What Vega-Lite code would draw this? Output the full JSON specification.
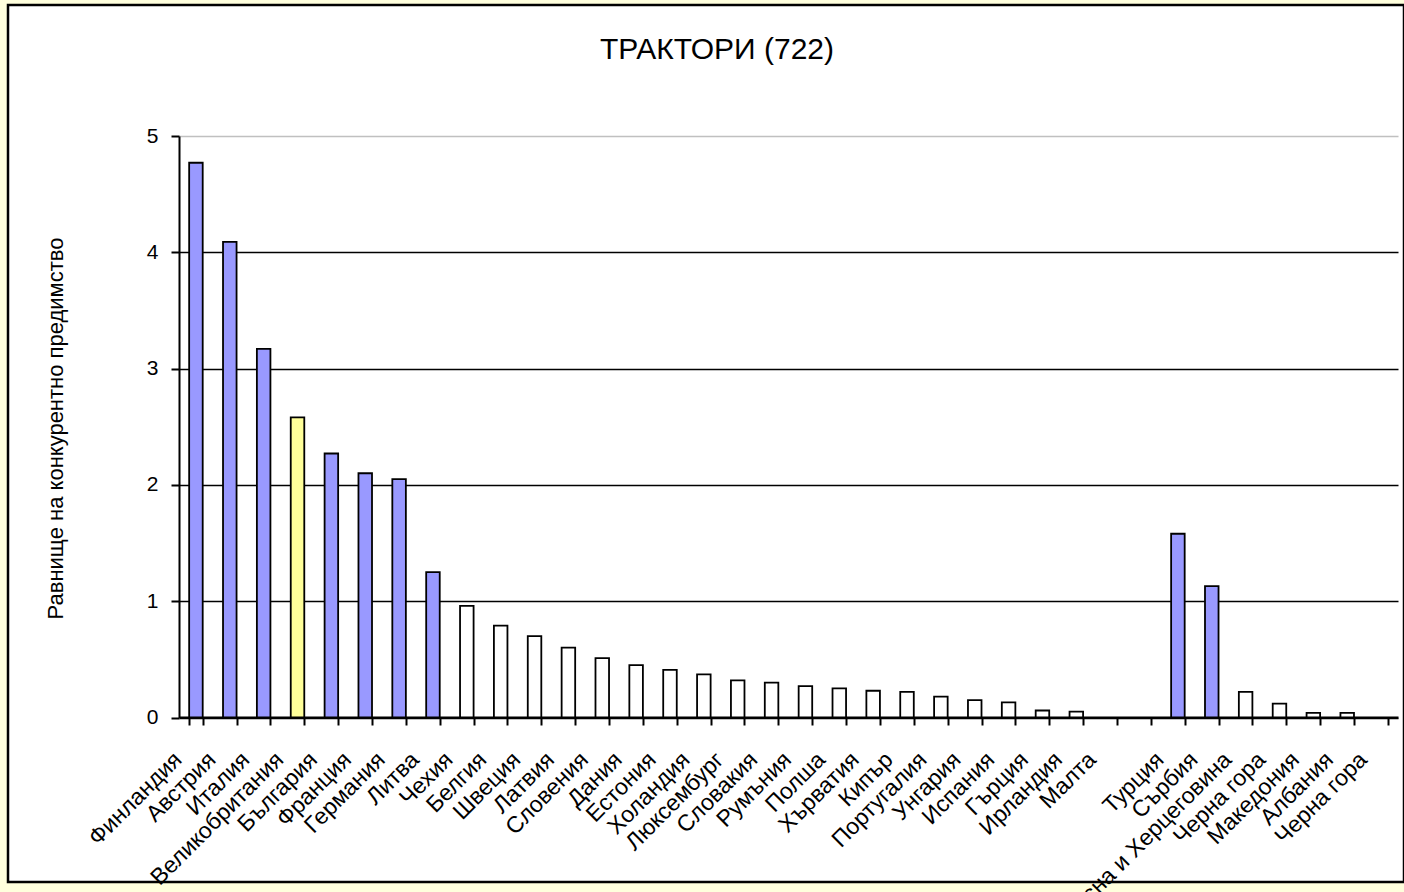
{
  "$schema": "https://vega.github.io/schema/vega-lite/v6.json",
  "width": 1396,
  "height": 877,
  "autosize": {"type": "none"},
  "padding": {"left": 8, "top": 5, "right": 0, "bottom": 10},
  "background": "#FFFFDD",
  "config": {
    "view": {"fill": "white", "stroke": "black", "strokeWidth": 2.5},
    "font": "Liberation Sans"
  },
  "title": {
    "text": "ТРАКТОРИ (722)",
    "fontSize": 30,
    "fontWeight": "normal",
    "font": "Liberation Sans",
    "color": "black",
    "anchor": "middle",
    "offset": -84,
    "baseline": "alphabetic",
    "dx": 11
  },
  "data": {
    "values": [
      {"country": "Финландия", "value": 4.77, "grp": "top"},
      {"country": "Австрия", "value": 4.09, "grp": "top"},
      {"country": "Италия", "value": 3.17, "grp": "top"},
      {"country": "Великобритания", "value": 2.58, "grp": "bg"},
      {"country": "България", "value": 2.27, "grp": "top"},
      {"country": "Франция", "value": 2.10, "grp": "top"},
      {"country": "Германия", "value": 2.05, "grp": "top"},
      {"country": "Литва", "value": 1.25, "grp": "top"},
      {"country": "Чехия", "value": 0.96, "grp": "other"},
      {"country": "Белгия", "value": 0.79, "grp": "other"},
      {"country": "Швеция", "value": 0.70, "grp": "other"},
      {"country": "Латвия", "value": 0.60, "grp": "other"},
      {"country": "Словения", "value": 0.51, "grp": "other"},
      {"country": "Дания", "value": 0.45, "grp": "other"},
      {"country": "Естония", "value": 0.41, "grp": "other"},
      {"country": "Холандия", "value": 0.37, "grp": "other"},
      {"country": "Люксембург", "value": 0.32, "grp": "other"},
      {"country": "Словакия", "value": 0.30, "grp": "other"},
      {"country": "Румъния", "value": 0.27, "grp": "other"},
      {"country": "Полша", "value": 0.25, "grp": "other"},
      {"country": "Хърватия", "value": 0.23, "grp": "other"},
      {"country": "Кипър", "value": 0.22, "grp": "other"},
      {"country": "Португалия", "value": 0.18, "grp": "other"},
      {"country": "Унгария", "value": 0.15, "grp": "other"},
      {"country": "Испания", "value": 0.13, "grp": "other"},
      {"country": "Гърция", "value": 0.06, "grp": "other"},
      {"country": "Ирландия", "value": 0.05, "grp": "other"},
      {"country": "Малта", "value": 0, "grp": "other"},
      {"country": "", "value": 0, "grp": "other"},
      {"country": "Турция", "value": 1.58, "grp": "top"},
      {"country": "Сърбия", "value": 1.13, "grp": "top"},
      {"country": "Босна и Херцеговина", "value": 0.22, "grp": "other"},
      {"country": "Черна гора", "value": 0.12, "grp": "other"},
      {"country": "Македония", "value": 0.04, "grp": "other"},
      {"country": "Албания", "value": 0.04, "grp": "other"},
      {"country": "Черна гора ", "value": 0, "grp": "other"}
    ]
  },
  "mark": {"type": "bar", "stroke": "black", "strokeWidth": 1.8},
  "encoding": {
    "x": {
      "field": "country",
      "type": "nominal",
      "sort": null,
      "scale": {"range": [171, 1390], "paddingInner": 0.6, "paddingOuter": 0.3},
      "axis": {
        "title": null,
        "offset": -165,
        "labelAngle": -45,
        "labelFontSize": 23,
        "labelFont": "Liberation Sans",
        "labelColor": "black",
        "labelLimit": 400,
        "domainColor": "black",
        "domainWidth": 2,
        "tickColor": "black",
        "tickWidth": 2,
        "tickSize": 8,
        "tickBand": "extent",
        "labelPadding": 23,
        "labelOffset": -26,
        "labelOverlap": false,
        "labelBound": false,
        "grid": false
      }
    },
    "y": {
      "field": "value",
      "type": "quantitative",
      "scale": {"domain": [0, 5], "range": [712.5, 131], "nice": false},
      "axis": {
        "title": "Равнище на конкурентно предимство",
        "offset": -171,
        "values": [0, 1, 2, 3, 4, 5],
        "grid": true,
        "gridColor": {"condition": {"test": "datum.value === 5", "value": "#c0c0c0"}, "value": "black"},
        "gridWidth": 1.6,
        "domainColor": "black",
        "domainWidth": 2,
        "tickColor": "black",
        "tickWidth": 2,
        "tickSize": 8,
        "labelFontSize": 21,
        "labelFont": "Liberation Sans",
        "labelColor": "black",
        "labelPadding": 13,
        "titleFont": "Liberation Sans",
        "titleFontSize": 22,
        "titleFontWeight": "normal",
        "titleColor": "black",
        "titleX": -124,
        "titleY": 423,
        "titleAngle": -90,
        "titleBaseline": "middle",
        "titleAlign": "center"
      }
    },
    "fill": {
      "field": "grp",
      "type": "nominal",
      "scale": {"domain": ["top", "bg", "other"], "range": ["#9999FF", "#FFFF99", "#FFFFFF"]},
      "legend": null
    },
    "strokeOpacity": {
      "condition": {"test": "datum.value === 0", "value": 0},
      "value": 1
    }
  }
}
